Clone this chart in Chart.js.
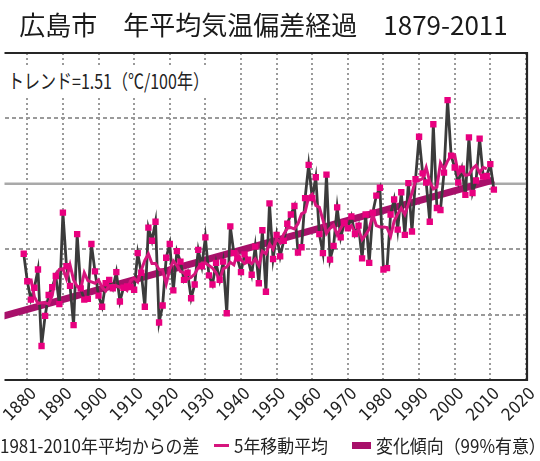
<!DOCTYPE html>
<html>
<head>
<meta charset="utf-8">
<script src="https://cdn.jsdelivr.net/npm/chart.js@4.4.1/dist/chart.umd.min.js"></script>
<style>
body { margin: 0; background: #fff; }
#wrap { position: relative; width: 540px; height: 461px; overflow: hidden; font-family: "Noto Sans CJK JP", sans-serif; color: #222; }
#trendNote { position: absolute; left: 0; top: 65px; width: 216px; height: 32px; background: #fff; }
#trendNote span { position: absolute; left: 8px; top: 0; line-height: 32px; font-size: 20px; white-space: nowrap; transform: scaleX(0.8); transform-origin: left center; }
.lg { position: absolute; top: 433px; font-size: 18px; line-height: 24px; white-space: nowrap; transform: scaleX(0.94); transform-origin: left center; }
.mk { position: absolute; }
</style>
</head>
<body>
<div id="wrap">
  <canvas id="grafico" width="540" height="461"></canvas>
  <div id="trendNote"><span>トレンド=1.51（℃/100年）</span></div>
  <span class="lg" style="left:0px">1981-2010年平均からの差</span>
  <div class="mk" style="left:214px;top:444px;width:15px;height:3px;background:#d6157d"></div>
  <span class="lg" style="left:234px">5年移動平均</span>
  <div class="mk" style="left:352px;top:442px;width:19px;height:7px;background:#a8106a"></div>
  <span class="lg" style="left:376px">変化傾向（99%有意）</span>
</div>
<script>
// ===========================
// DADOS (leitura do gráfico)
// ===========================

const firstYear = 1879;

// desvio anual em relação à média 1981-2010 (°C)
const anomaly = [
  -1.07,
  -1.49, -1.77, -1.59, -1.31, -2.48, -2.02, -1.70, -1.58, -1.41, -1.84,
  -0.44, -1.26, -1.56, -2.16, -0.77, -1.60, -1.77, -1.76, -0.92, -1.34,
  -1.71, -1.88, -1.52, -1.47, -1.60, -1.35, -1.80, -1.59, -1.57, -1.58,
  -1.62, -1.06, -1.36, -1.88, -0.67, -0.87, -0.58, -2.12, -1.86, -1.13,
  -0.92, -1.63, -1.03, -1.19, -1.47, -1.36, -1.75, -1.54, -1.01, -1.26,
  -0.82, -1.40, -1.54, -1.21, -1.47, -1.19, -1.98, -0.65, -1.06, -1.14,
  -1.35, -1.08, -1.16, -1.39, -0.96, -1.52, -0.71, -1.65, -0.30, -1.15,
  -0.78, -1.11, -0.87, -0.61, -0.47, -0.34, -1.05, -0.97, -0.22, 0.29,
  -0.22, 0.10, -0.77, -1.06, 0.14, -1.16, -0.95, -0.36, -0.82, -0.60,
  -0.68, -0.50, -0.77, -0.64, -1.14, -0.47, -1.21, -0.44, -0.18, -0.06,
  -1.31, -1.29, -0.47, -0.24, -0.70, -0.13, -0.78, 0.01, -0.73, 0.07,
  0.72, 0.16, 0.02, -0.58, 0.91, -0.37, -0.40, 0.17, 1.28, 0.43,
  0.25, 0.02, 0.23, -0.17, 0.71, -0.14, 0.05, 0.69, 0.11, 0.12,
  0.30, -0.09
];

// média móvel de 5 anos (1881-2009)
const maFirstYear = 1881;
const movingAvg = [
  -1.45, -1.73, -1.83, -1.82, -1.82, -1.84, -1.71, -1.39, -1.31, -1.30,
  -1.45, -1.24, -1.47, -1.57, -1.61, -1.36, -1.48, -1.50, -1.52, -1.47,
  -1.58, -1.64, -1.56, -1.55, -1.56, -1.58, -1.58, -1.63, -1.48, -1.44,
  -1.50, -1.32, -1.17, -1.07, -1.22, -1.22, -1.31, -1.32, -1.53, -1.31,
  -1.18, -1.25, -1.34, -1.36, -1.46, -1.43, -1.38, -1.28, -1.21, -1.21,
  -1.25, -1.29, -1.36, -1.48, -1.30, -1.27, -1.20, -1.24, -1.06, -1.16,
  -1.22, -1.19, -1.22, -1.15, -1.25, -1.03, -1.07, -0.92, -1.00, -0.84,
  -0.90, -0.77, -0.68, -0.67, -0.69, -0.61, -0.46, -0.43, -0.20, -0.16,
  -0.33, -0.36, -0.55, -0.76, -0.68, -0.63, -0.78, -0.68, -0.59, -0.67,
  -0.64, -0.75, -0.70, -0.85, -0.78, -0.69, -0.47, -0.64, -0.66, -0.66,
  -0.67, -0.80, -0.57, -0.46, -0.37, -0.47, -0.31, -0.14, 0.05, 0.05,
  0.08, 0.25, 0.03, -0.08, -0.05, 0.32, 0.22, 0.35, 0.43, 0.44,
  0.15, 0.21, 0.13, 0.14, 0.23, 0.28, 0.17, 0.25, 0.23
];

// linha de tendência (1.51 °C / 100 anos)
const trendYears = [1870, 2011];
const trendValues = [-2.07, 0.06];

const xTicks = [1880, 1890, 1900, 1910, 1920, 1930, 1940, 1950, 1960, 1970, 1980, 1990, 2000, 2010, 2020];
const yTicks = [-3, -2, -1, 0, 1, 2];


const annualPts = anomaly.map((v, i) => ({ x: firstYear + i, y: v }));
const maPts = movingAvg.map((v, i) => ({ x: maFirstYear + i, y: v }));
const trendPts = trendYears.map((x, i) => ({ x: x, y: trendValues[i] }));


// ===========================
// MOLDURA + LINHA ZERO
// ===========================

const moldura = {
  id: 'moldura',
  beforeDatasetsDraw(chart) {
    const ctx = chart.ctx, a = chart.chartArea;
    const y0 = chart.scales.y.getPixelForValue(0);
    ctx.save();
    ctx.strokeStyle = '#a9a9a9';
    ctx.lineWidth = 2.5;
    ctx.beginPath();
    ctx.moveTo(a.left, y0);
    ctx.lineTo(a.right, y0);
    ctx.stroke();
    ctx.restore();
  },
  afterDatasetsDraw(chart) {
    const ctx = chart.ctx, a = chart.chartArea;
    ctx.save();
    ctx.strokeStyle = '#262626';
    ctx.lineWidth = 2.2;
    ctx.beginPath();
    ctx.moveTo(a.left, a.top);
    ctx.lineTo(a.right, a.top);
    ctx.lineTo(a.right, a.bottom);
    ctx.lineTo(a.left, a.bottom);
    ctx.stroke();
    ctx.restore();
  }
};


new Chart(document.getElementById('grafico'), {
  type: 'line',
  data: {
    datasets: [
      {
        label: '変化傾向（99%有意）',
        data: trendPts,
        borderColor: '#a8106a',
        borderWidth: 7,
        pointRadius: 0,
        clip: 0,
        order: 4
      },
      {
        label: '1981-2010年平均からの差',
        data: annualPts,
        borderColor: '#3b3b3b',
        borderWidth: 2.8,
        pointRadius: 0,
        order: 3
      },
      {
        label: '5年移動平均',
        data: maPts,
        borderColor: '#d6157d',
        borderWidth: 3,
        pointRadius: 0,
        order: 2
      },
      {
        label: '1981-2010年平均からの差',
        data: annualPts,
        showLine: false,
        pointStyle: 'rect',
        pointRadius: 4.5,
        pointBackgroundColor: '#e8007f',
        pointBorderWidth: 0,
        order: 1
      }
    ]
  },
  options: {
    responsive: false,
    animation: false,
    events: [],
    layout: { padding: { left: 0, right: 13, top: 0, bottom: 39 } },
    plugins: {
      legend: { display: false },
      tooltip: { enabled: false },
      title: {
        display: true,
        text: '広島市　年平均気温偏差経過　1879-2011',
        color: '#1a1a1a',
        font: { family: '"Noto Sans CJK JP", sans-serif', size: 26, weight: 'normal', lineHeight: 1.2 },
        padding: { top: 10, bottom: 11.8 }
      }
    },
    scales: {
      x: {
        type: 'linear',
        min: 1873.6,
        max: 2020.3,
        afterBuildTicks: s => { s.ticks = xTicks.map(v => ({ value: v })); },
        afterFit: s => { s.height = 42; s.paddingLeft = 0; s.paddingRight = 0; },
        grid: { color: '#9a9a9a', lineWidth: 2, drawTicks: false },
        border: { display: false, dash: [2, 3] },
        ticks: {
          autoSkip: false,
          minRotation: 45,
          maxRotation: 45,
          padding: 4,
          labelOffset: 7,
          color: '#222',
          font: { family: '"Liberation Sans Narrow", "DejaVu Sans Condensed", sans-serif', size: 17 },
          callback: v => String(v)
        }
      },
      y: {
        min: -3,
        max: 2,
        afterBuildTicks: s => { s.ticks = yTicks.map(v => ({ value: v })); },
        afterFit: s => { s.width = 0; },
        ticks: { display: false },
        grid: {
          drawTicks: false,
          lineWidth: 2,
          color: c => (c.tick && c.tick.value === 0) ? 'rgba(0,0,0,0)' : '#9a9a9a'
        },
        border: { display: false, dash: [4, 3] }
      }
    }
  },
  plugins: [moldura]
});
</script>
</body>
</html>
